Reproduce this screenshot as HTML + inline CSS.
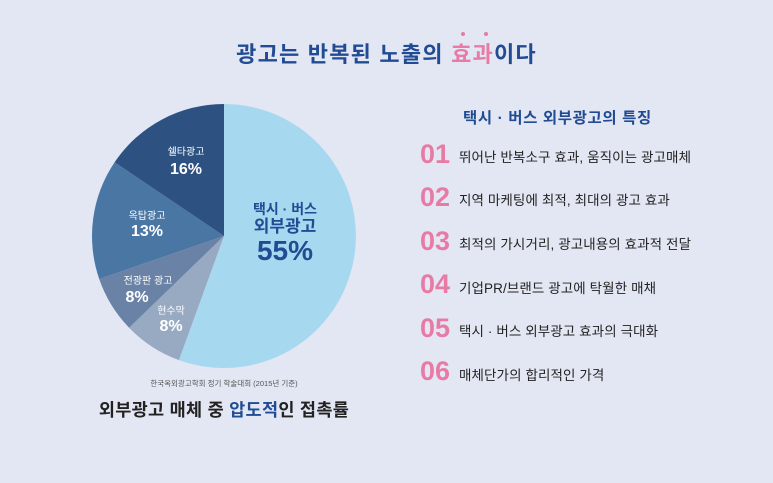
<!DOCTYPE html>
<html><head><meta charset="utf-8"><style>
html,body{margin:0;padding:0}
body{width:773px;height:483px;background:#e3e7f3;position:relative;overflow:hidden;font-family:"Liberation Sans","Noto Sans CJK KR",sans-serif}
.t{position:absolute;white-space:nowrap}
.num{position:absolute;left:420px;font-size:27px;font-weight:bold;color:#e87ba6;line-height:1}
.row{position:absolute;left:459px;font-size:13.5px;color:#222;line-height:1;letter-spacing:0.1px}
</style></head><body>
<div class="t" style="left:0;width:773px;text-align:center;top:37px;font-size:22px;letter-spacing:1.2px;font-weight:bold;color:#214c94">광고는 반복된 노출의 <span style="color:#e87ba6">효과</span>이다</div>
<div class="t" style="left:461px;top:32px;width:4px;height:4px;border-radius:50%;background:#e87ba6"></div>
<div class="t" style="left:484px;top:32px;width:4px;height:4px;border-radius:50%;background:#e87ba6"></div>
<svg width="773" height="483" style="position:absolute;left:0;top:0" font-family="Liberation Sans, Noto Sans CJK KR, sans-serif">
<path d="M224,236 L224,104 A132,132 0 1 1 178.9,360.1 Z" fill="#a6d8f0"/>
<path d="M224,236 L178.9,360.1 A132,132 0 0 1 129.1,327.7 Z" fill="#98a9c2"/>
<path d="M224,236 L129.1,327.7 A132,132 0 0 1 99.2,279 Z" fill="#6a82a6"/>
<path d="M224,236 L99.2,279 A132,132 0 0 1 114.6,162.2 Z" fill="#4a76a4"/>
<path d="M224,236 L114.6,162.2 A132,132 0 0 1 224,104 Z" fill="#2d5282"/>
<g fill="#214c94" font-weight="bold" text-anchor="middle">
<text x="285" y="214" font-size="14">택시 · 버스</text>
<text x="285" y="232" font-size="17">외부광고</text>
<text x="285" y="260" font-size="28">55%</text>
</g>
<g fill="#fff" text-anchor="middle">
<text x="186" y="155" font-size="10">쉘타광고</text>
<text x="186" y="174" font-size="16" font-weight="bold">16%</text>
<text x="147" y="219" font-size="10">옥탑광고</text>
<text x="147" y="236" font-size="16" font-weight="bold">13%</text>
<text x="148" y="284" font-size="10">전광판 광고</text>
<text x="137" y="302" font-size="16" font-weight="bold">8%</text>
<text x="171" y="314" font-size="10">현수막</text>
<text x="171" y="331" font-size="16" font-weight="bold">8%</text>
</g>
<text x="224" y="386" font-size="7.5" fill="#555" text-anchor="middle">한국옥외광고학회 정기 학술대회 (2015년 기준)</text>
<text x="224" y="416" font-size="17.5" font-weight="bold" fill="#222" text-anchor="middle" letter-spacing="0.3">외부광고 매체 중 <tspan fill="#214c94">압도적</tspan>인 접촉률</text>
</svg>
<div class="t" style="left:463px;top:106px;font-size:15.5px;letter-spacing:0.6px;font-weight:bold;color:#214c94">택시 · 버스 외부광고의 특징</div>
<div class="num" style="top:141px">01</div><div class="row" style="top:151px">뛰어난 반복소구 효과, 움직이는 광고매체</div>
<div class="num" style="top:184px">02</div><div class="row" style="top:194px">지역 마케팅에 최적, 최대의 광고 효과</div>
<div class="num" style="top:228px">03</div><div class="row" style="top:238px">최적의 가시거리, 광고내용의 효과적 전달</div>
<div class="num" style="top:271px">04</div><div class="row" style="top:282px">기업PR/브랜드 광고에 탁월한 매채</div>
<div class="num" style="top:315px">05</div><div class="row" style="top:325px">택시 · 버스 외부광고 효과의 극대화</div>
<div class="num" style="top:358px">06</div><div class="row" style="top:369px">매체단가의 합리적인 가격</div>
</body></html>
